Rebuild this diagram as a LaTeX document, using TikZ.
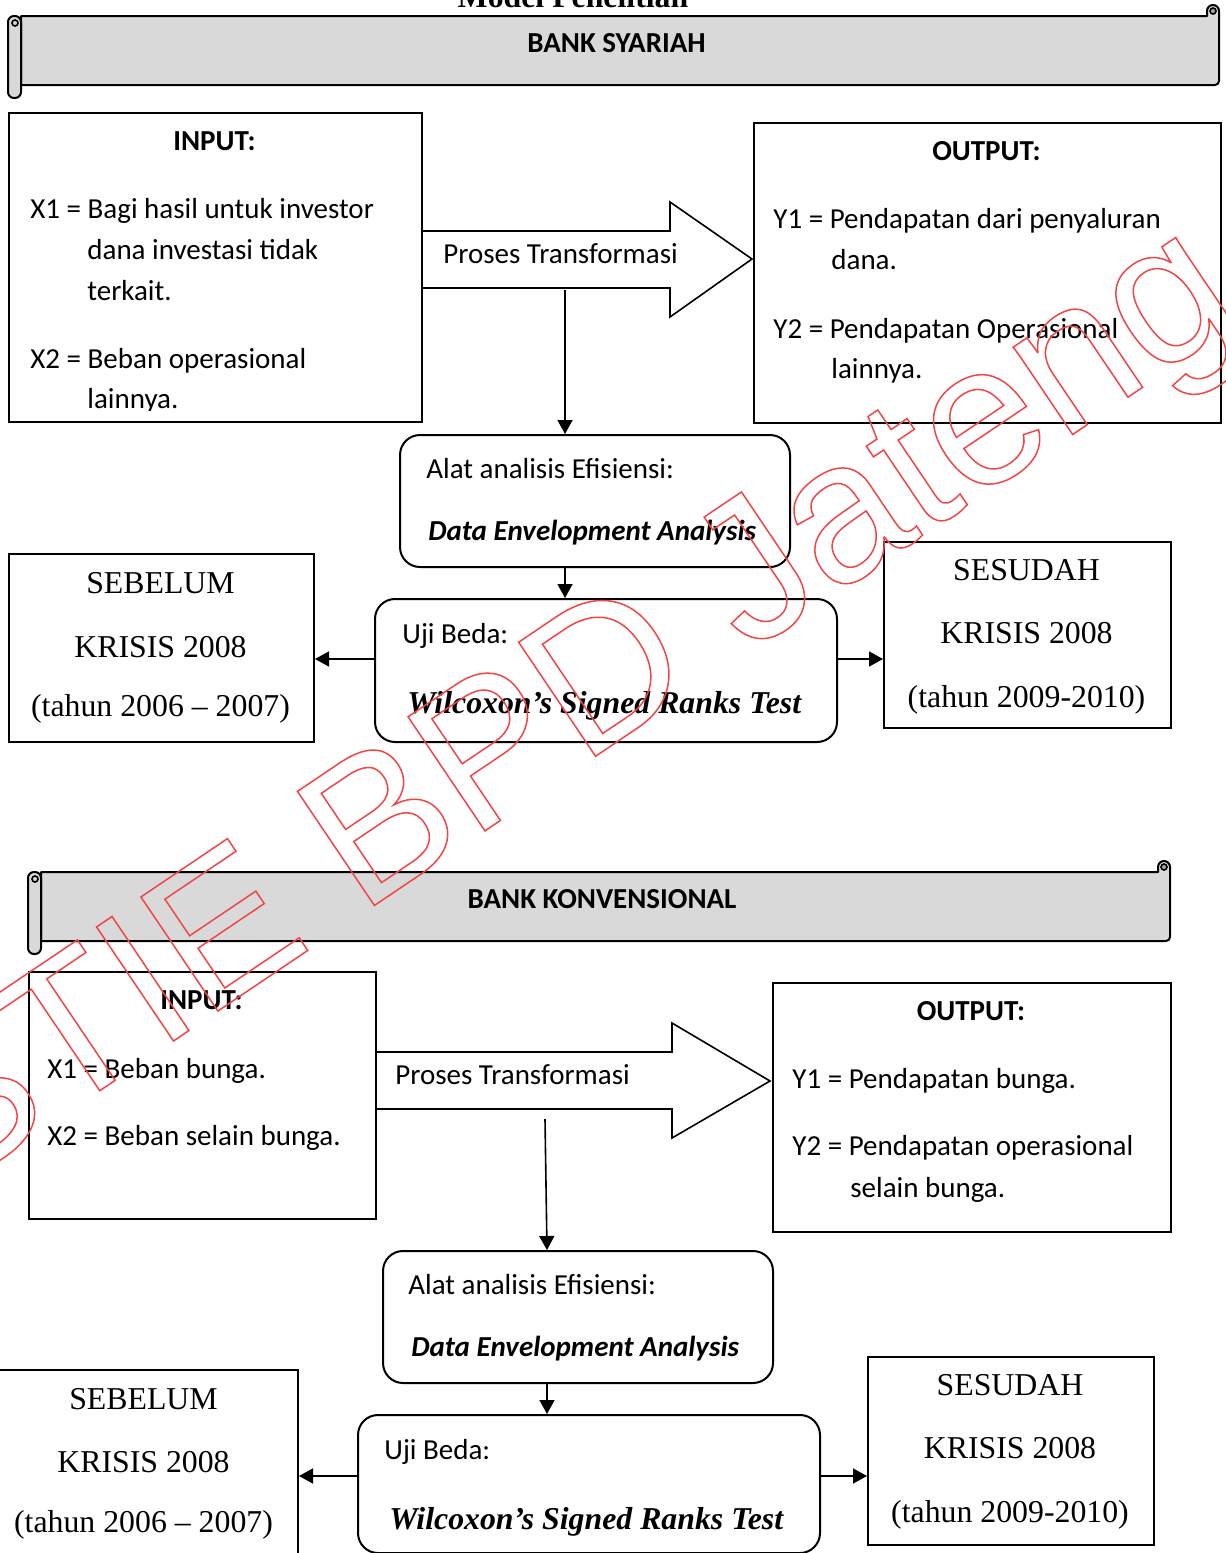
\documentclass[tikz,border=0pt]{standalone}
\usepackage{fontspec}
\setmainfont{Liberation Serif}
\newfontfamily\calfont{Carlito}
\newfontfamily\wmfont{Liberation Sans}
\usetikzlibrary{arrows.meta}
\definecolor{bannergray}{HTML}{D9D9D9}
\definecolor{curlgray}{HTML}{A6A6A6}
\definecolor{wmred}{RGB}{240,70,70}
\newcommand\scrollbanner[4]{% L T B R
  \filldraw[fill=bannergray, line width=1pt, line join=round]
    ({#1+13},#2) -- ({#4-12},#2) -- ({#4-12},{#2-5})
    arc[start angle=180,end angle=360,radius=6]
    -- (#4,{#3-4}) arc[start angle=0,end angle=90,radius=4]
    -- ({#1+13},#3) -- cycle;
  \filldraw[fill=curlgray, line width=0.8pt] ({#4-6},{#2-5}) circle[radius=3];
  \filldraw[fill=bannergray, line width=1pt, rounded corners=3pt]
    (#1,#2) rectangle ({#1+13},{#3+13});
  \draw[line width=0.8pt] ({#1+7},{#2+7}) circle[radius=3];
}
\begin{document}
\begin{tikzpicture}[x=0.5pt,y=-0.5pt,
  box/.style={draw, line width=1pt, inner sep=0pt, anchor=north west},
  rbox/.style={box, rounded corners=10pt},
  cal/.style={font=\calfont\fontsize{14.5}{17}\selectfont, inner sep=0pt},
  calb/.style={font=\calfont\bfseries\fontsize{14.5}{17}\selectfont, inner sep=0pt},
  calbi/.style={font=\calfont\bfseries\itshape\fontsize{14.5}{17}\selectfont, inner sep=0pt},
  tms/.style={font=\fontsize{15.9}{19}\selectfont, inner sep=0pt},
  tmsb/.style={font=\bfseries\fontsize{15.9}{19}\selectfont, inner sep=0pt},
  tmsbi/.style={font=\bfseries\itshape\fontsize{15.9}{19}\selectfont, inner sep=0pt},
  conn/.style={line width=0.8pt, -{Triangle[length=7pt,width=7.5pt]}},
  blockarrow/.style={line width=0.8pt, line join=miter},
]
\useasboundingbox (0,0) rectangle (1226,1553);

% title (cut off)
\node[tmsb, anchor=base] (title) at (573,7.5) {Model Penelitian};

% ================= BANK SYARIAH =================
\scrollbanner{8}{16}{85}{1219}
\node[calb, anchor=base] (bs) at (616.5,52) {BANK SYARIAH};

\node[box, minimum width=206.5pt, minimum height=154.5pt] (in1) at (8,112) {};
\node[box, minimum width=233.5pt, minimum height=150pt] (out1) at (753,122) {};
\node[rbox, minimum width=195pt, minimum height=66pt] (alat1) at (399,434) {};
\node[rbox, minimum width=231pt, minimum height=71.5pt] (uji1) at (374,598) {};
\node[box, minimum width=152.5pt, minimum height=94pt] (seb1) at (8,553) {};
\node[box, minimum width=143.5pt, minimum height=93pt] (ses1) at (883,541) {};

\draw[blockarrow] (421,231) -- (670,231) -- (670,202) -- (752,259) -- (670,317) -- (670,288) -- (421,288);
\node[cal, anchor=base west] (pt1) at (443,263) {Proses Transformasi};

\node[calb, anchor=base] (in1h) at (214.5,150) {INPUT:};
\node[cal, anchor=base west] (in1a) at (30,218) {X1 = Bagi hasil untuk investor};
\node[cal, anchor=base west] (in1b) at (87,259) {dana investasi tidak};
\node[cal, anchor=base west] (in1c) at (87,300) {terkait.};
\node[cal, anchor=base west] (in1d) at (30,368) {X2 = Beban operasional};
\begin{scope}
  \clip (8,112) rectangle (421,410.5);
  \node[cal, anchor=base west] (in1e) at (87,408) {lainnya.};
\end{scope}

\node[calb, anchor=base] (out1h) at (986.5,160) {OUTPUT:};
\node[cal, anchor=base west] (out1a) at (773,228) {Y1 = Pendapatan dari penyaluran};
\node[cal, anchor=base west] (out1b) at (831,269) {dana.};
\node[cal, anchor=base west] (out1c) at (773,338) {Y2 = Pendapatan Operasional};
\node[cal, anchor=base west] (out1d) at (831,378) {lainnya.};

\node[cal, anchor=base west] (alat1a) at (426,478) {Alat analisis Efisiensi:};
\node[calbi, anchor=base west] (alat1b) at (428,540) {Data Envelopment Analysis};
\node[cal, anchor=base west] (uji1a) at (402,643) {Uji Beda:};
\node[tmsbi, anchor=base west] (uji1b) at (407,713) {Wilcoxon’s Signed Ranks Test};

\node[tms, anchor=base] (seb1a) at (160.5,593) {SEBELUM};
\node[tms, anchor=base] (seb1b) at (160.5,657) {KRISIS 2008};
\node[tms, anchor=base] (seb1c) at (160.5,716) {(tahun 2006 – 2007)};
\node[tms, anchor=base] (ses1a) at (1026.5,580) {SESUDAH};
\node[tms, anchor=base] (ses1b) at (1026.5,643) {KRISIS 2008};
\node[tms, anchor=base] (ses1c) at (1026.5,707) {(tahun 2009-2010)};

\coordinate (t1) at (565,290);
\coordinate (h1) at (0,659);
\draw[conn] (t1) -- (t1 |- alat1.north);
\draw[conn] (t1 |- alat1.south) -- (t1 |- uji1.north);
\draw[conn] (uji1.west |- h1) -- (seb1.east |- h1);
\draw[conn] (uji1.east |- h1) -- (ses1.west |- h1);

% ================= BANK KONVENSIONAL =================
\scrollbanner{28}{872}{941}{1170}
\node[calb, anchor=base] (bk) at (602,908) {BANK KONVENSIONAL};

\node[box, minimum width=173.5pt, minimum height=123.5pt] (in2) at (28,971) {};
\node[box, minimum width=199pt, minimum height=124.5pt] (out2) at (772,982) {};
\node[rbox, minimum width=195pt, minimum height=66pt] (alat2) at (382,1250) {};
\node[rbox, minimum width=231pt, minimum height=69pt] (uji2) at (357,1414) {};
\node[box, minimum width=153.5pt, minimum height=97pt] (seb2) at (-10,1369) {};
\node[box, minimum width=143pt, minimum height=94pt] (ses2) at (867,1356) {};

\draw[blockarrow] (375,1052) -- (672,1052) -- (672,1023) -- (770,1081) -- (672,1138) -- (672,1109) -- (375,1109);
\node[cal, anchor=base west] (pt2) at (395,1084) {Proses Transformasi};

\node[calb, anchor=base] (in2h) at (201.5,1009) {INPUT:};
\node[cal, anchor=base west] (in2a) at (47,1078) {X1 = Beban bunga.};
\node[cal, anchor=base west] (in2b) at (47,1145) {X2 = Beban selain bunga.};

\node[calb, anchor=base] (out2h) at (971,1020) {OUTPUT:};
\node[cal, anchor=base west] (out2a) at (792,1088) {Y1 = Pendapatan bunga.};
\node[cal, anchor=base west] (out2b) at (792,1155) {Y2 = Pendapatan operasional};
\node[cal, anchor=base west] (out2c) at (850,1197) {selain bunga.};

\node[cal, anchor=base west] (alat2a) at (408,1294) {Alat analisis Efisiensi:};
\node[calbi, anchor=base west] (alat2b) at (411,1356) {Data Envelopment Analysis};
\node[cal, anchor=base west] (uji2a) at (384,1459) {Uji Beda:};
\node[tmsbi, anchor=base west] (uji2b) at (389,1529) {Wilcoxon’s Signed Ranks Test};

\node[tms, anchor=base] (seb2a) at (143.5,1409) {SEBELUM};
\node[tms, anchor=base] (seb2b) at (143.5,1472) {KRISIS 2008};
\node[tms, anchor=base] (seb2c) at (143.5,1532) {(tahun 2006 – 2007)};
\node[tms, anchor=base] (ses2a) at (1010,1395) {SESUDAH};
\node[tms, anchor=base] (ses2b) at (1010,1458) {KRISIS 2008};
\node[tms, anchor=base] (ses2c) at (1010,1522) {(tahun 2009-2010)};

\coordinate (t2) at (545,1119);
\coordinate (t2b) at (547,0);
\coordinate (h2) at (0,1476);
\draw[conn] (t2) -- (t2b |- alat2.north);
\draw[conn] (t2b |- alat2.south) -- (t2b |- uji2.north);
\draw[conn] (uji2.west |- h2) -- (seb2.east |- h2);
\draw[conn] (uji2.east |- h2) -- (ses2.west |- h2);

% ================= watermark =================
\node[font=\wmfont\fontsize{100}{100}\selectfont, text=wmred, rotate=34, anchor=base, inner sep=0pt] (wm) at (596,756)
  {\special{pdf:literal direct 1 Tr 0.75 w}STIE BPD Jateng\special{pdf:literal direct 0 Tr}};
\end{tikzpicture}
\end{document}
